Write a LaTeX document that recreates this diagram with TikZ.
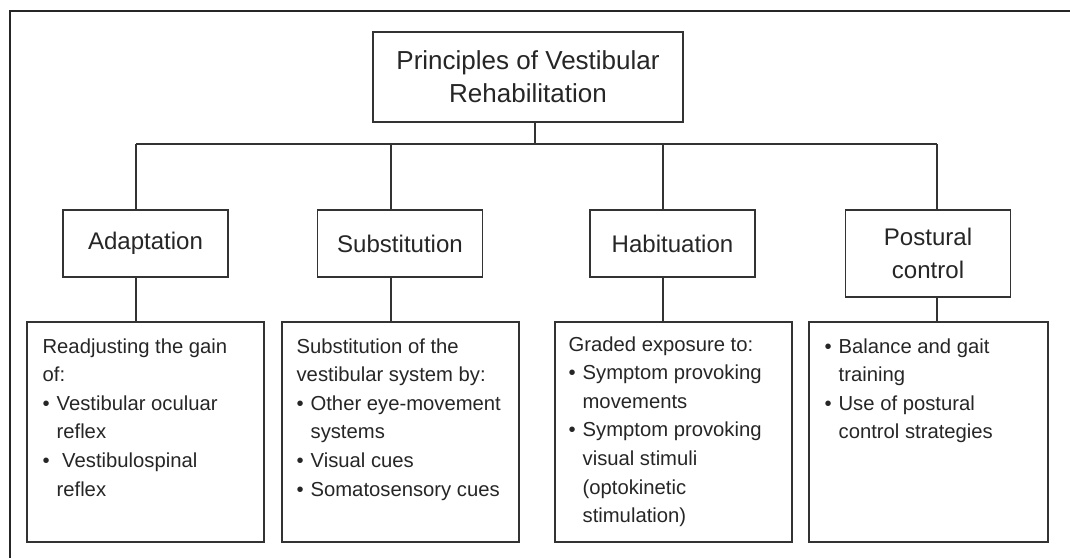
\documentclass[tikz,border=0pt]{standalone}
\usepackage{fontspec}
\setmainfont{Liberation Sans}
\newcommand{\bul}{\makebox[0.35cm][l]{\textbullet}}
\newcommand{\ind}{\hspace*{0.35cm}}
\tikzset{
  box/.style={draw=black!80, line width=0.9pt, fill=white, inner sep=0pt, align=center, text=black!85},
  head/.style={box, minimum width=4.125cm, minimum height=1.675cm, font=\fontsize{17.1}{23.5}\selectfont},
  detail/.style={box, minimum width=5.925cm, minimum height=5.5cm},
  body/.style={inner sep=0pt, align=left, anchor=north west, text=black!85, font=\fontsize{14.4}{20.3}\selectfont},
  link/.style={draw=black!80, line width=0.9pt}
}
\begin{document}
\begin{tikzpicture}[x=0.025cm, y=-0.025cm]
	\useasboundingbox (0,0) rectangle (1070,558);
	\draw[black!85, line width=1.3pt] (10,558) -- (10,11) -- (1070,11);
	\node[box, minimum width=7.75cm, minimum height=2.25cm, font=\fontsize{18.5}{23.5}\selectfont] (root) at (528,77) {Principles of Vestibular\\Rehabilitation};
	\node[head] (adapt) at (145.5,243.5) {Adaptation};
	\node[head] (subst) at (400,243.5) {Substitution};
	\node[head] (habit) at (672.5,243.5) {Habituation};
	\node[head, minimum height=2.175cm] (postur) at (928,253.5) {Postural\\control};
	\node[detail] (dadapt) at (145.5,432) {};
	\node[detail] (dsubst) at (400.5,432) {};
	\node[detail] (dhabit) at (673.5,432) {};
	\node[detail, minimum width=5.975cm] (dpostur) at (928.5,432) {};
	\node[body] (tadapt) at ([shift={(16,17)}]dadapt.north west) {Readjusting the gain\\of:\\\bul Vestibular oculuar\\\ind reflex\\\bul\ Vestibulospinal\\\ind reflex};
	\node[body] (tsubst) at ([shift={(15,17)}]dsubst.north west) {Substitution of the\\vestibular system by:\\\bul Other eye-movement\\\ind systems\\\bul Visual cues\\\bul Somatosensory cues};
	\node[body] (thabit) at ([shift={(14,15)}]dhabit.north west) {Graded exposure to:\\\bul Symptom provoking\\\ind movements\\\bul Symptom provoking\\\ind visual stimuli\\\ind (optokinetic\\\ind stimulation)};
	\node[body] (tpostur) at ([shift={(16,17)}]dpostur.north west) {\bul Balance and gait\\\ind training\\\bul Use of postural\\\ind control strategies};
	\coordinate (stem) at (535,144);
	\coordinate (k1) at (136,144);
	\coordinate (k2) at (391,144);
	\coordinate (k3) at (663,144);
	\coordinate (k4) at (937,144);
	\draw[link] (k1) -- (k4);
	\draw[link] (root.south -| stem) -- (stem);
	\foreach \k/\h/\d in {k1/adapt/dadapt, k2/subst/dsubst, k3/habit/dhabit, k4/postur/dpostur} {
		\draw[link] (\k) -- (\k |- \h.north);
		\draw[link] (\k |- \h.south) -- (\k |- \d.north);
	}
\end{tikzpicture}
\end{document}
